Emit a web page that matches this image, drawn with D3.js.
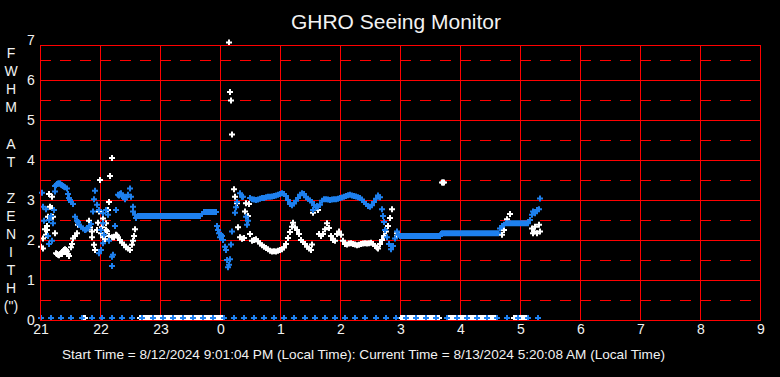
<!DOCTYPE html>
<html>
<head>
<meta charset="utf-8">
<style>
html, body { margin: 0; padding: 0; background: #000; }
svg { display: block; background: #000; }
text { font-family: "Liberation Sans", Arial, sans-serif; fill: #f2f2f2; }
.grid line { stroke: #ff0000; stroke-width: 1; shape-rendering: crispEdges; }
.grid line.half { stroke-dasharray: 11 9; }
.frame { fill: none; stroke: #ff0000; stroke-width: 1; shape-rendering: crispEdges; }
</style>
<script src="https://cdnjs.cloudflare.com/ajax/libs/d3/7.8.5/d3.min.js"></script>
</head>
<body>
<svg id="chart" width="780" height="377"></svg>
<script>
// hours shown along the bottom (local time, starting 21:00)
var hourLabels = ["21","22","23","0","1","2","3","4","5","6","7","8","9"]
var yTicks = [0, 1, 2, 3, 4, 5, 6, 7]
var yHalves = [0.5, 1.5, 2.5, 3.5, 4.5, 5.5, 6.5]
var yTop = 6.875
var axisLetters = ["F","W","H","M","","A","T","","Z","E","N","I","T","H","(\")"]
var titleText = "GHRO Seeing Monitor"
var footerText = "Start Time = 8/12/2024 9:01:04 PM (Local Time): Current Time = 8/13/2024 5:20:08 AM (Local Time)"

// [minutes after 21:00, FWHM]
var whiteSeeing = [
  [1,1.78],[3,1.74],[3,1.99],[5,2.22],[6,2.08],[7,2.2],[7,2.3],[8,2.53],[9,3.1],[10,2.78],[12,3.03],[12,2.75],[13,2.53],[15,2.12],
  [16,1.62],[17,1.6],[18,1.58],[19,1.57],[20,1.6],[21,1.62],[22,1.6],[23,1.66],[24,1.7],[25,1.72],[26,1.7],[27,1.66],[28,1.6],[29,1.55],
  [31,1.77],[32,1.85],[33,1.99],[35,2.05],[37,2.12],[38,2.33],
  [49,2.43],[50,2.27],[52,2.16],[52,2.02],[54,1.83],[55,1.7],[57,2.2],[58,2.38],[59,2.66],[60,3.45],[61,2.12],[62,2.27],[63,2.49],[63,2.02],
  [65,1.97],[66,2.37],[66,2.2],[67,2.17],[68,2.7],[69,2.9],[69,2.05],[70,3.55],[72,4.0],[72,2.02],[74,2.02],[76,2.08],[77,2.06],[78,2.02],
  [80,1.95],[82,1.88],[84,1.83],[86,1.77],[88,1.74],[90,1.7],[92,1.83],[93,1.93],[94,2.05],[95,2.22],
  [189,6.89],[190,5.65],[191,5.44],[192,4.59],
  [194,3.22],[195,3.03],[197,2.87],[198,2.27],[200,2.02],[202,1.98],[204,2.0],[205,2.66],[206,2.87],[208,2.55],[209,2.85],[210,2.1],
  [212,1.93],[214,1.95],[216,1.97],[218,1.92],[220,1.86],[222,1.82],[224,1.78],[226,1.75],[228,1.72],[230,1.68],[232,1.66],[234,1.67],
  [236,1.66],[238,1.68],[240,1.7],[242,1.72],[244,1.76],[246,1.85],[248,2.0],[250,2.15],[252,2.28],[253,2.38],[255,2.27],[257,2.2],
  [259,2.1],[261,1.95],[263,1.9],[265,1.85],[267,1.78],[269,1.74],[271,1.7],[272,1.84],[273,2.63],[278,2.7],[279,2.1],[281,2.05],
  [283,2.1],[285,2.22],[287,2.37],[289,2.25],[291,2.05],[293,1.95],[295,1.93],[297,2.1],[299,2.16],[301,2.08],[303,1.93],[305,1.85],
  [307,1.84],[309,1.86],[311,1.87],[313,1.85],[315,1.84],[317,1.82],[319,1.83],[321,1.85],[323,1.86],[325,1.87],[327,1.86],[329,1.87],
  [331,1.88],[333,1.85],[335,1.8],[337,1.76],[338,1.74],[340,1.85],[342,1.95],[344,2.05],[346,2.16],[348,2.3],[350,2.5],[352,2.72],
  [357,2.05],[357,2.12],
  [402,3.39],[403,3.39],[404,3.39],
  [462,2.08],[464,2.2],[467,2.47],[470,2.6],
  [492,2.24],[493,2.12],[494,2.16],[495,2.28],[497,2.12],[499,2.33],[500,2.16]
]

var blueSeeing = [
  [2,3.13],[3,2.78],[6,2.72],[14,2.7],[11,2.55],[4,2.43],[9,2.45],[13,2.37],[8,2.05],[9,1.85],[12,1.93],
  [15,3.16],[15,3.3],[16,3.32],[17,3.35],[18,3.36],[19,3.36],[20,3.36],[21,3.33],[22,3.32],[23,3.3],[24,3.28],[25,3.27],[27,3.24],
  [28,3.1],[29,3.0],[30,2.95],[31,2.9],[33,2.85],
  [35,2.53],[37,2.43],[38,2.4],[39,2.33],[41,2.28],[43,2.24],[45,2.2],[46,2.21],[48,2.24],[49,2.3],[51,2.35],
  [55,3.18],[54,2.97],[57,2.83],[53,2.66],[59,2.7],[63,2.62],[66,2.7],[68,2.58],[63,2.37],[61,2.2],[64,2.08],[63,1.87],[61,1.7],
  [59,1.62],[72,1.53],[73,1.58],[72,1.3],[76,2.7],[75,2.3],[69,1.93],
  [78,3.08],[79,3.06],[80,3.1],[81,3.12],[82,3.05],[83,3.04],[84,3.03],[86,3.02],[88,3.08],[90,3.24],[91,3.03],[85,2.97],
  [93,2.78],[93,2.66],[95,2.58],[96,2.5],
  [98,2.55],[100,2.55],[102,2.55],[104,2.55],[106,2.55],[108,2.55],[110,2.55],[112,2.55],[114,2.55],[116,2.55],[118,2.55],
  [120,2.55],[122,2.55],[124,2.55],[126,2.55],[128,2.55],[130,2.55],[132,2.55],[134,2.55],[136,2.55],[138,2.55],[140,2.55],
  [142,2.55],[144,2.55],[146,2.55],[148,2.55],[150,2.55],[152,2.55],[154,2.55],[156,2.55],[158,2.55],[160,2.55],
  [162,2.6],[164,2.65],[166,2.65],[168,2.65],[170,2.65],[172,2.65],[174,2.65],[176,2.65],
  [177,2.3],[178,2.2],[179,2.12],[180,2.02],[181,2.08],[182,2.05],[183,1.95],[185,1.78],[186,1.7],[187,1.45],[188,1.27],[189,1.33],
  [190,1.47],[191,1.84],[192,2.16],[195,2.63],[196,2.77],[197,2.9],[200,3.12],[202,3.03],[203,3.03],[206,2.53],[207,2.33],[208,2.43],
  [210,3.0],[212,2.97],[214,2.96],[216,2.95],[218,2.96],[220,2.98],[222,3.0],[224,3.0],[226,3.02],[228,3.03],[230,3.03],[232,3.04],
  [234,3.05],[236,3.06],[238,3.08],[240,3.1],[242,3.12],[244,3.1],[246,3.05],[248,2.95],[250,2.85],[252,2.82],[254,2.86],[256,2.93],
  [258,3.0],[260,3.08],[262,3.12],[264,3.1],[266,3.02],[268,2.98],[270,2.94],[272,2.9],[274,2.82],[276,2.77],[278,2.78],[280,2.83],
  [282,2.93],[284,2.97],[286,2.97],[288,2.96],[290,2.95],[292,2.96],[294,2.97],[296,2.97],[298,2.98],[300,3.0],[302,3.01],[304,3.03],
  [306,3.05],[308,3.07],[310,3.08],[312,3.06],[314,3.05],[316,3.04],[318,3.02],[320,3.0],[322,2.96],[324,2.9],[326,2.85],[328,2.8],
  [330,2.78],[332,2.82],[334,2.9],[336,2.98],[338,3.06],[340,3.02],
  [273,2.7],[277,2.8],
  [342,2.72],[343,2.55],[344,2.4],[345,2.2],[347,2.02],[349,1.85],[351,1.72],[353,1.8],[355,1.99],[357,2.16],[358,2.08],
  [360,2.05],[362,2.05],[364,2.05],[366,2.05],[368,2.05],[370,2.05],[372,2.05],[374,2.05],[376,2.05],[378,2.05],[380,2.05],
  [382,2.05],[384,2.05],[386,2.05],[388,2.05],[390,2.05],[392,2.05],[394,2.05],[396,2.05],[398,2.05],[400,2.05],[401,2.1],
  [402,2.12],[404,2.12],[406,2.12],[408,2.12],[410,2.12],[412,2.12],[414,2.12],[416,2.12],[418,2.12],[420,2.12],[422,2.12],
  [424,2.12],[426,2.12],[428,2.12],[430,2.12],[432,2.12],[434,2.12],[436,2.12],[438,2.12],[440,2.12],[442,2.12],[444,2.12],
  [446,2.12],[448,2.12],[450,2.12],[452,2.12],[454,2.12],[456,2.12],[458,2.12],
  [460,2.24],[462,2.3],[464,2.33],[466,2.37],[468,2.37],[470,2.37],[472,2.37],[474,2.37],[476,2.37],[478,2.37],[480,2.37],
  [482,2.37],[484,2.37],[486,2.37],[488,2.37],
  [490,2.45],[492,2.58],[493,2.66],[495,2.62],[497,2.7],[499,2.72],[500,2.99]
]

// minutes where a reading was 0 (no measurement)
var whiteZeroMinutes = [
  42,43,44,45,
  100,102,104,106,108,110,112,114,116,118,120,122,124,126,128,130,132,134,136,138,140,142,144,146,148,150,152,
  154,156,158,160,162,164,166,168,170,172,174,176,178,180,182,184,
  361,363,365,367,369,371,373,375,377,379,381,383,385,387,389,391,393,395,397,399,
  409,411,413,415,417,419,421,423,425,427,429,431,433,435,437,439,441,443,445,447,449,451,453,455,457,
  474,476,478,480,482,484,486,488
]
var blueZeroMinutes = [
  1,11,21,31,42,52,62,72,82,92,102,113,123,133,143,153,163,173,184,194,204,214,224,234,244,
  254,265,275,285,295,305,315,325,336,346,356,366,376,386,396,407,417,427,437,447,457,467,478,488,498
]

var width = 780, height = 377
var lift = 2
var plus = "M-3,0H3M0,-3V3"

var x = d3.scaleLinear().domain([0, 720]).range([40, 760])
var y = d3.scaleLinear().domain([0, 7]).range([320, 40])

var svg = d3.select('#chart')

// grid
var grid = svg.append('g').attr('class', 'grid')
grid.selectAll('line.full')
  .data(yTicks.filter(function(d) { return d > 0 && d < yTop }))
  .join('line').attr('class', 'full')
  .attr('x1', x(0)).attr('x2', x(720))
  .attr('y1', function(d) { return y(d) }).attr('y2', function(d) { return y(d) })
grid.selectAll('line.half')
  .data(yHalves)
  .join('line').attr('class', 'half')
  .attr('x1', x(0)).attr('x2', x(720))
  .attr('y1', function(d) { return y(d) }).attr('y2', function(d) { return y(d) })
grid.selectAll('line.v')
  .data(hourLabels.slice(1, -1))
  .join('line').attr('class', 'v')
  .attr('x1', function(d, i) { return x((i + 1) * 60) })
  .attr('x2', function(d, i) { return x((i + 1) * 60) })
  .attr('y1', y(yTop)).attr('y2', y(0))

// points
function drawSeries(pts, color) {
  svg.append('g').selectAll('path')
    .data(pts)
    .join('path')
    .attr('d', plus)
    .attr('transform', function(d) { return 'translate(' + x(d[0]) + ',' + (y(d[1]) - lift) + ')' })
    .attr('fill', 'none')
    .attr('stroke', color)
    .attr('stroke-width', 2)
}
var whiteAll = whiteZeroMinutes.map(function(t) { return [t, 0] }).concat(whiteSeeing)
var blueAll = blueZeroMinutes.map(function(t) { return [t, 0] }).concat(blueSeeing)
drawSeries(whiteAll, '#ffffff')
drawSeries(blueAll, '#1e80ee')

// frame
svg.append('rect').attr('class', 'frame')
  .attr('x', x(0)).attr('y', y(yTop))
  .attr('width', x(720) - x(0)).attr('height', y(0) - y(yTop))

// axis labels
svg.append('g').selectAll('text')
  .data(yTicks)
  .join('text')
  .attr('x', 31).attr('y', function(d) { return y(d) })
  .attr('dy', '0.36em')
  .attr('text-anchor', 'middle')
  .style('font-size', '14px')
  .text(function(d) { return d })

svg.append('g').selectAll('text')
  .data(hourLabels)
  .join('text')
  .attr('x', function(d, i) { return x(i * 60) + 1 })
  .attr('y', 334)
  .attr('text-anchor', 'middle')
  .style('font-size', '14px')
  .text(function(d) { return d })

svg.append('g').selectAll('text')
  .data(axisLetters)
  .join('text')
  .attr('x', 11).attr('y', function(d, i) { return 58 + i * 18.1 })
  .attr('text-anchor', 'middle')
  .style('font-size', '14px')
  .text(function(d) { return d })

svg.append('text')
  .attr('x', 396).attr('y', 29)
  .attr('text-anchor', 'middle')
  .style('font-size', '21px')
  .text(titleText)

svg.append('text')
  .attr('x', 62).attr('y', 359)
  .style('font-size', '13.6px')
  .text(footerText)
</script>
</body>
</html>
